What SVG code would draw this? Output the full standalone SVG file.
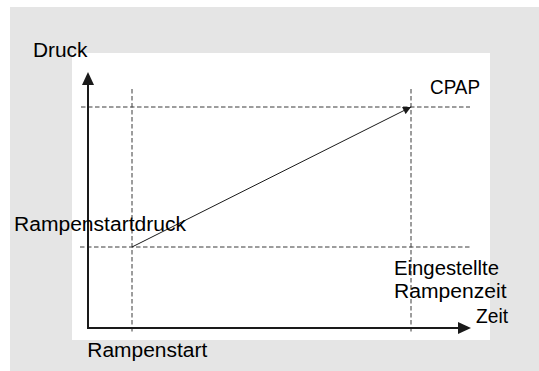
<svg xmlns="http://www.w3.org/2000/svg" width="539" height="371" viewBox="0 0 539 371">
<defs>
<style>
.lbl{font-family:"Liberation Sans",Arial,sans-serif;font-size:20px;fill:#000}
.dash{stroke:#3a3a3a;stroke-width:1;stroke-dasharray:4.5,2.5;fill:none}
.axis{stroke:#1a1a1a;stroke-width:2;fill:none}
.ramp{stroke:#1a1a1a;stroke-width:1;fill:none}
</style>
<marker id="ah" viewBox="0 0 10 10" refX="10" refY="5" markerWidth="10" markerHeight="8" markerUnits="userSpaceOnUse" orient="auto"><path d="M0,0 L10,5 L0,10 Z" fill="#1a1a1a"/></marker>
</defs>
<rect x="10" y="7" width="529" height="364" fill="#e5e5e5"/>
<rect x="72" y="53" width="418" height="287" fill="#ffffff"/>
<g id="grid">
<line class="dash" x1="132" y1="89" x2="132" y2="333"/>
<line class="dash" x1="411" y1="89" x2="411" y2="333"/>
<line class="dash" x1="81" y1="107" x2="470" y2="107"/>
<line class="dash" x1="80" y1="247" x2="470" y2="247"/>
</g>
<g id="connectors">
<polyline class="axis" points="88,85 88,328 458,328"/>
<path d="M88,72 L82,85 L94,85 Z" fill="#1a1a1a"/>
<path d="M471,328 L458,322 L458,334 Z" fill="#1a1a1a"/>
<line class="ramp" x1="132" y1="247" x2="411" y2="107" marker-end="url(#ah)"/>
</g>
<g id="labels">
<text id="druck" class="lbl" x="33" y="56.7" textLength="54.5" lengthAdjust="spacingAndGlyphs">Druck</text>
<text id="cpap" class="lbl" x="430" y="94" textLength="50" lengthAdjust="spacingAndGlyphs">CPAP</text>
<text id="rampenstartdruck" class="lbl" x="14" y="230.7" textLength="172" lengthAdjust="spacingAndGlyphs">Rampenstartdruck</text>
<text id="eingestellte" class="lbl" x="394" y="275" textLength="105" lengthAdjust="spacingAndGlyphs">Eingestellte</text>
<text id="rampenzeit" class="lbl" x="394" y="298.3" textLength="112.5" lengthAdjust="spacingAndGlyphs">Rampenzeit</text>
<text id="zeit" class="lbl" x="476" y="323.3" textLength="32" lengthAdjust="spacingAndGlyphs">Zeit</text>
<text id="rampenstart" class="lbl" x="87.3" y="356.7" textLength="120" lengthAdjust="spacingAndGlyphs">Rampenstart</text>
</g>
</svg>
